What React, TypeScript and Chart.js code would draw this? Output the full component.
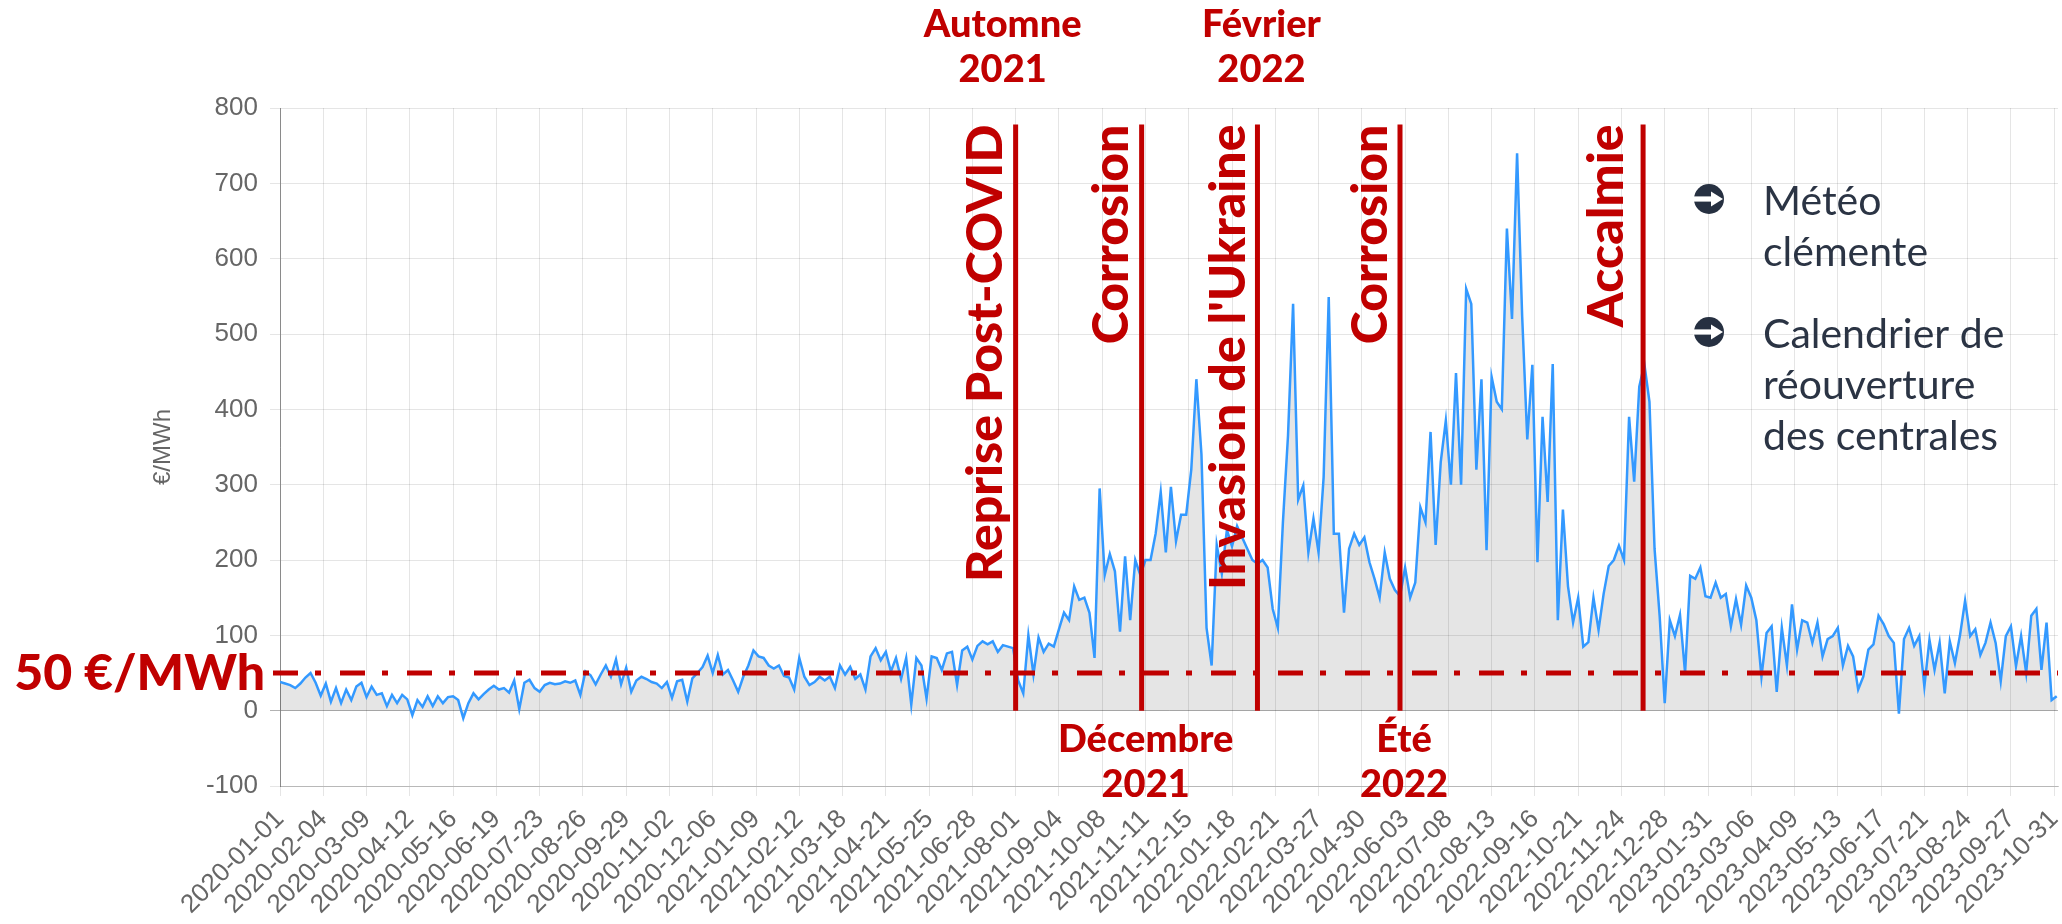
import React, { useEffect, useRef } from "react";
import { Chart, registerables } from "chart.js";

Chart.register(...registerables);

// Day-ahead price, one sample every STEP days, starting 2020-01-01
const STEP = 4;
const prices2020 = [
  38, 36, 34, 30, 36, 44, 50, 37, 20, 36,
  12, 30, 10, 28, 14, 32, 37, 18, 32, 21,
  23, 6, 21, 10, 21, 15, -6, 14, 5, 19,
  6, 19, 10, 18, 19, 14, -10, 10, 23, 15,
  22, 28, 33, 28, 30, 24, 40, 2, 37, 41,
  30, 25, 34, 37, 35, 36, 39, 37, 40, 21,
  52, 47, 35, 48, 60, 45, 68, 35, 57, 25,
  40, 45, 42, 38, 36, 30, 38, 17, 39, 41,
  12, 43, 50, 58, 73, 50, 74, 48, 54, 40,
  25, 45,
];
const prices2021 = [
  60, 80, 72, 70, 60, 56, 60, 46, 44, 28,
  70, 45, 34, 38, 45, 40, 45, 30, 60, 48,
  58, 42, 48, 28, 72, 83, 67, 78, 52, 70,
  42, 70, 8, 70, 60, 16, 72, 70, 54, 76,
  78, 34, 80, 85, 68, 86, 92, 88, 92, 78,
  87, 85, 83, 40, 23, 100, 48, 97, 78, 89,
  85, 108, 130, 120, 165, 147, 150, 130, 70, 295,
  180, 208, 185, 105, 205, 120, 200, 180, 200, 200,
  235, 290, 210, 297, 225, 260, 260, 320, 440, 340,
  110,
];
const prices2022 = [
  60, 220, 182, 240, 218, 245, 230, 215, 200, 195,
  200, 190, 135, 110, 250, 365, 540, 280, 299, 210,
  255, 210, 310, 549, 235, 235, 130, 215, 235, 220,
  230, 197, 175, 150, 210, 175, 160, 152, 190, 150,
  170, 270, 250, 370, 220, 330, 385, 300, 448, 300,
  560, 540, 320, 440, 213, 443, 410, 400, 640, 520,
  740, 523, 360, 459, 197, 390, 277, 460, 120, 267,
  165, 117, 150, 85, 91, 150, 107, 155, 192, 200,
  219, 200, 390, 304, 430, 460, 410, 215, 126, 10,
  120,
];
const prices2023 = [
  99, 127, 50, 179, 175, 190, 152, 150, 170, 150,
  155, 112, 148, 114, 166, 150, 120, 45, 103, 112,
  25, 110, 60, 141, 81, 120, 117, 90, 117, 72,
  95, 99, 110, 60, 86, 72, 28, 45, 81, 88,
  126, 115, 99, 90, -4, 95, 110, 86, 99, 32,
  94, 54, 90, 23, 92, 63, 100, 146, 99, 108,
  74, 90, 117, 90, 39, 99, 112, 59, 99, 50,
  126, 135, 54, 117, 14, 19,
];
const LAST_INDEX = 1397;

const TICK_EVERY = 34;
const tickLabels = [
  "2020-01-01", "2020-02-04", "2020-03-09", "2020-04-12", "2020-05-16", "2020-06-19",
  "2020-07-23", "2020-08-26", "2020-09-29", "2020-11-02", "2020-12-06",
  "2021-01-09", "2021-02-12", "2021-03-18", "2021-04-21", "2021-05-25", "2021-06-28",
  "2021-08-01", "2021-09-04", "2021-10-08", "2021-11-11", "2021-12-15",
  "2022-01-18", "2022-02-21", "2022-03-27", "2022-04-30", "2022-06-03", "2022-07-08",
  "2022-08-13", "2022-09-16", "2022-10-21", "2022-11-24", "2022-12-28",
  "2023-01-31", "2023-03-06", "2023-04-09", "2023-05-13", "2023-06-17", "2023-07-21",
  "2023-08-24", "2023-09-27", "2023-10-31",
];

// Events (index in the daily series) and their labels
const eventIndex = [578, 677, 768, 880, 1071];
const eventLabels = ["Reprise Post-COVID", "Corrosion", "Invasion de l'Ukraine", "Corrosion", "Accalmie"];
const topNotes = [
  { event: 0, lines: ["Automne", "2021"] },
  { event: 2, lines: ["Février", "2022"] },
];
const bottomNotes = [
  { event: 1, lines: ["Décembre", "2021"] },
  { event: 3, lines: ["Été", "2022"] },
];
const thresholdValue = 50;
const thresholdLabel = "50 €/MWh";
const legendItems = [
  ["Météo", "clémente"],
  ["Calendrier de", "réouverture", "des centrales"],
];

// ---- styling / layout (not data) ----
const RED = "#c00000";
const labelGap = [14, 14, 12, 13, 20];
const topNoteShift = [-13, 4];
const bottomNoteShift = [4, 4];

const annotationPlugin = {
  id: "annotations",
  afterDatasetsDraw(chart: any) {
    const { ctx, chartArea, scales } = chart;
    const x = scales.x;
    const y = scales.y;
    ctx.save();

    // threshold dash-dot line
    const y50 = y.getPixelForValue(thresholdValue);
    ctx.strokeStyle = RED;
    ctx.lineWidth = 5;
    ctx.lineCap = "butt";
    ctx.setLineDash([25, 17, 6, 19]);
    ctx.beginPath();
    ctx.moveTo(chartArea.left - 7, y50);
    ctx.lineTo(chartArea.right, y50);
    ctx.stroke();
    ctx.setLineDash([]);

    ctx.fillStyle = RED;
    ctx.font = "900 50px Lato";
    ctx.textAlign = "right";
    ctx.textBaseline = "alphabetic";
    ctx.fillText(thresholdLabel, chartArea.left - 15, y50 + 17);

    // event lines and rotated labels
    const yTop = y.getPixelForValue(778);
    const y0 = y.getPixelForValue(0);
    eventIndex.forEach((ev, k) => {
      const px = x.getPixelForValue(ev);
      ctx.strokeStyle = RED;
      ctx.lineWidth = 5;
      ctx.beginPath();
      ctx.moveTo(px, yTop);
      ctx.lineTo(px, y0);
      ctx.stroke();

      ctx.save();
      ctx.translate(px - labelGap[k], yTop);
      ctx.rotate(-Math.PI / 2);
      ctx.font = "900 50px Lato";
      ctx.fillStyle = RED;
      ctx.textAlign = "right";
      ctx.textBaseline = "alphabetic";
      ctx.fillText(eventLabels[k], 0, 0);
      ctx.restore();
    });

    // notes above / below
    ctx.font = "900 38px Lato";
    ctx.textAlign = "center";
    ctx.fillStyle = RED;
    topNotes.forEach((n, k) => {
      const px = x.getPixelForValue(eventIndex[n.event]) + topNoteShift[k];
      ctx.fillText(n.lines[0], px, 37);
      ctx.fillText(n.lines[1], px, 82);
    });
    bottomNotes.forEach((n, k) => {
      const px = x.getPixelForValue(eventIndex[n.event]) + bottomNoteShift[k];
      ctx.fillText(n.lines[0], px, 752);
      ctx.fillText(n.lines[1], px, 797);
    });

    // legend-like text on the right
    const bx = 1709;
    const textX = 1763;
    let by = 215;
    legendItems.forEach((lines) => {
      const cy = by - 16;
      ctx.fillStyle = "#263041";
      ctx.beginPath();
      ctx.arc(bx, cy, 15, 0, Math.PI * 2);
      ctx.fill();
      ctx.fillStyle = "#ffffff";
      ctx.fillRect(bx - 16, cy - 2.6, 19, 5.2);
      ctx.beginPath();
      ctx.moveTo(bx + 2, cy - 7.5);
      ctx.lineTo(bx + 14, cy);
      ctx.lineTo(bx + 2, cy + 7.5);
      ctx.closePath();
      ctx.fill();

      ctx.fillStyle = "#2b3444";
      ctx.font = "400 41px Lato";
      ctx.textAlign = "left";
      lines.forEach((t, j) => {
        ctx.fillText(t, textX, by + j * 51);
      });
      by += lines.length * 51 + 31;
    });

    ctx.restore();
  },
};

export default function App() {
  const ref = useRef<HTMLCanvasElement | null>(null);

  useEffect(() => {
    if (!ref.current) return;
    const all = [...prices2020, ...prices2021, ...prices2022, ...prices2023];
    const points = all.map((v, k) => ({ x: k * STEP, y: v }));
    const family = "'Liberation Sans', Arial, sans-serif";

    const chart = new Chart(ref.current, {
      type: "line",
      data: {
        datasets: [
          {
            data: points,
            borderColor: "#3399ff",
            borderWidth: 2.5,
            pointRadius: 0,
            fill: "origin",
            backgroundColor: "rgba(0,0,0,0.1)",
            tension: 0,
          },
        ],
      },
      options: {
        animation: false,
        responsive: false,
        layout: { padding: { left: 145, top: 108, right: 4, bottom: 0 } },
        plugins: { legend: { display: false }, tooltip: { enabled: false } },
        scales: {
          x: {
            type: "linear",
            min: 0,
            max: LAST_INDEX,
            afterBuildTicks: (scale: any) => {
              scale.ticks = tickLabels.map((_, k) => ({ value: k * TICK_EVERY }));
            },
            afterFit: (scale: any) => {
              scale.height = 138;
              scale.paddingLeft = 0;
              scale.paddingRight = 0;
            },
            ticks: {
              autoSkip: false,
              minRotation: 45,
              maxRotation: 45,
              color: "#666",
              padding: 8,
              font: { size: 26, family },
              callback: (v: any) => tickLabels[Math.round(Number(v) / TICK_EVERY)],
            },
            grid: { color: "rgba(0,0,0,0.1)", tickLength: 10 },
            border: { color: "rgba(0,0,0,0.2)" },
          },
          y: {
            min: -100,
            max: 800,
            afterFit: (scale: any) => {
              scale.width = 135;
            },
            ticks: { stepSize: 100, color: "#666", padding: 12, font: { size: 26, family } },
            title: { display: true, text: "€/MWh", color: "#666", font: { size: 24, family } },
            grid: {
              color: (c: any) => (c.tick && c.tick.value === 0 ? "rgba(0,0,0,0.3)" : "rgba(0,0,0,0.1)"),
              tickLength: 10,
            },
            border: { color: "rgba(0,0,0,0.4)" },
          },
        },
      },
      plugins: [annotationPlugin],
    });
    return () => chart.destroy();
  }, []);

  return (
    <div style={{ position: "absolute", left: 0, top: 0, width: 2062, height: 924, background: "#fff" }}>
      <canvas ref={ref} width={2062} height={924} style={{ display: "block" }} />
    </div>
  );
}
